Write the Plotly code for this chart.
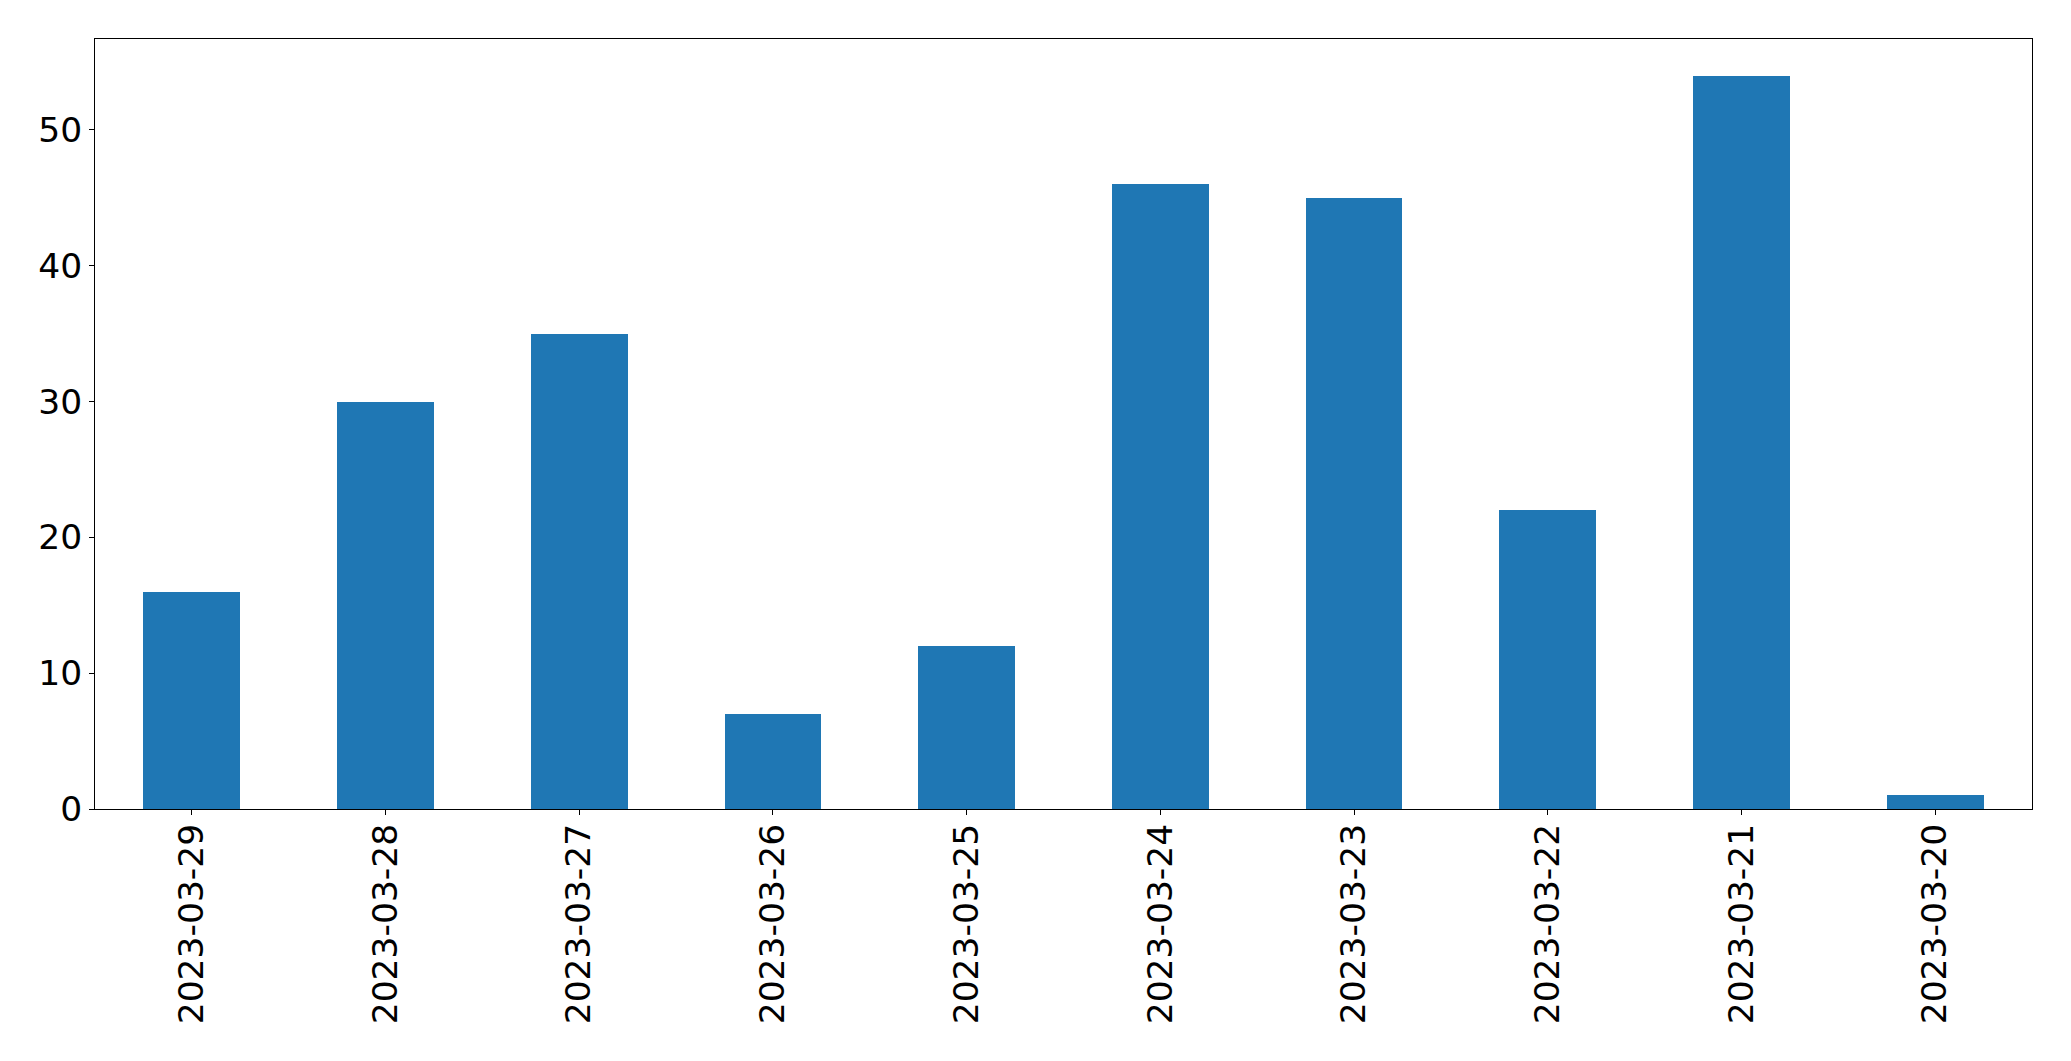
import plotly.graph_objects as go

dates = ["2023-03-29", "2023-03-28", "2023-03-27", "2023-03-26", "2023-03-25",
         "2023-03-24", "2023-03-23", "2023-03-22", "2023-03-21", "2023-03-20"]
counts = [16, 30, 35, 7, 12, 46, 45, 22, 54, 1]
y_ticks = [0, 10, 20, 30, 40, 50]

fig = go.Figure(go.Bar(x=dates, y=counts, width=0.5, marker=dict(color="#1f77b4", line=dict(width=0))))

axis_common = dict(
    showline=True, linecolor="black", linewidth=1, mirror=True,
    ticks="outside", ticklen=5, tickwidth=1, tickcolor="black",
    showgrid=False, zeroline=False, automargin=False,
    tickfont=dict(family="DejaVu Sans", size=34.5, color="black"),
)

fig.update_layout(
    width=2063, height=1053,
    margin=dict(l=87, r=39, t=31, b=252),
    paper_bgcolor="white", plot_bgcolor="white",
    showlegend=False,
    bargap=0,
    xaxis=dict(type="category", range=[-0.5, 9.5], tickangle=-90, ticklabelstandoff=-5, **axis_common),
    yaxis=dict(range=[0, 56.7], tickvals=y_ticks, **axis_common),
)

fig.write_html("out.html")
